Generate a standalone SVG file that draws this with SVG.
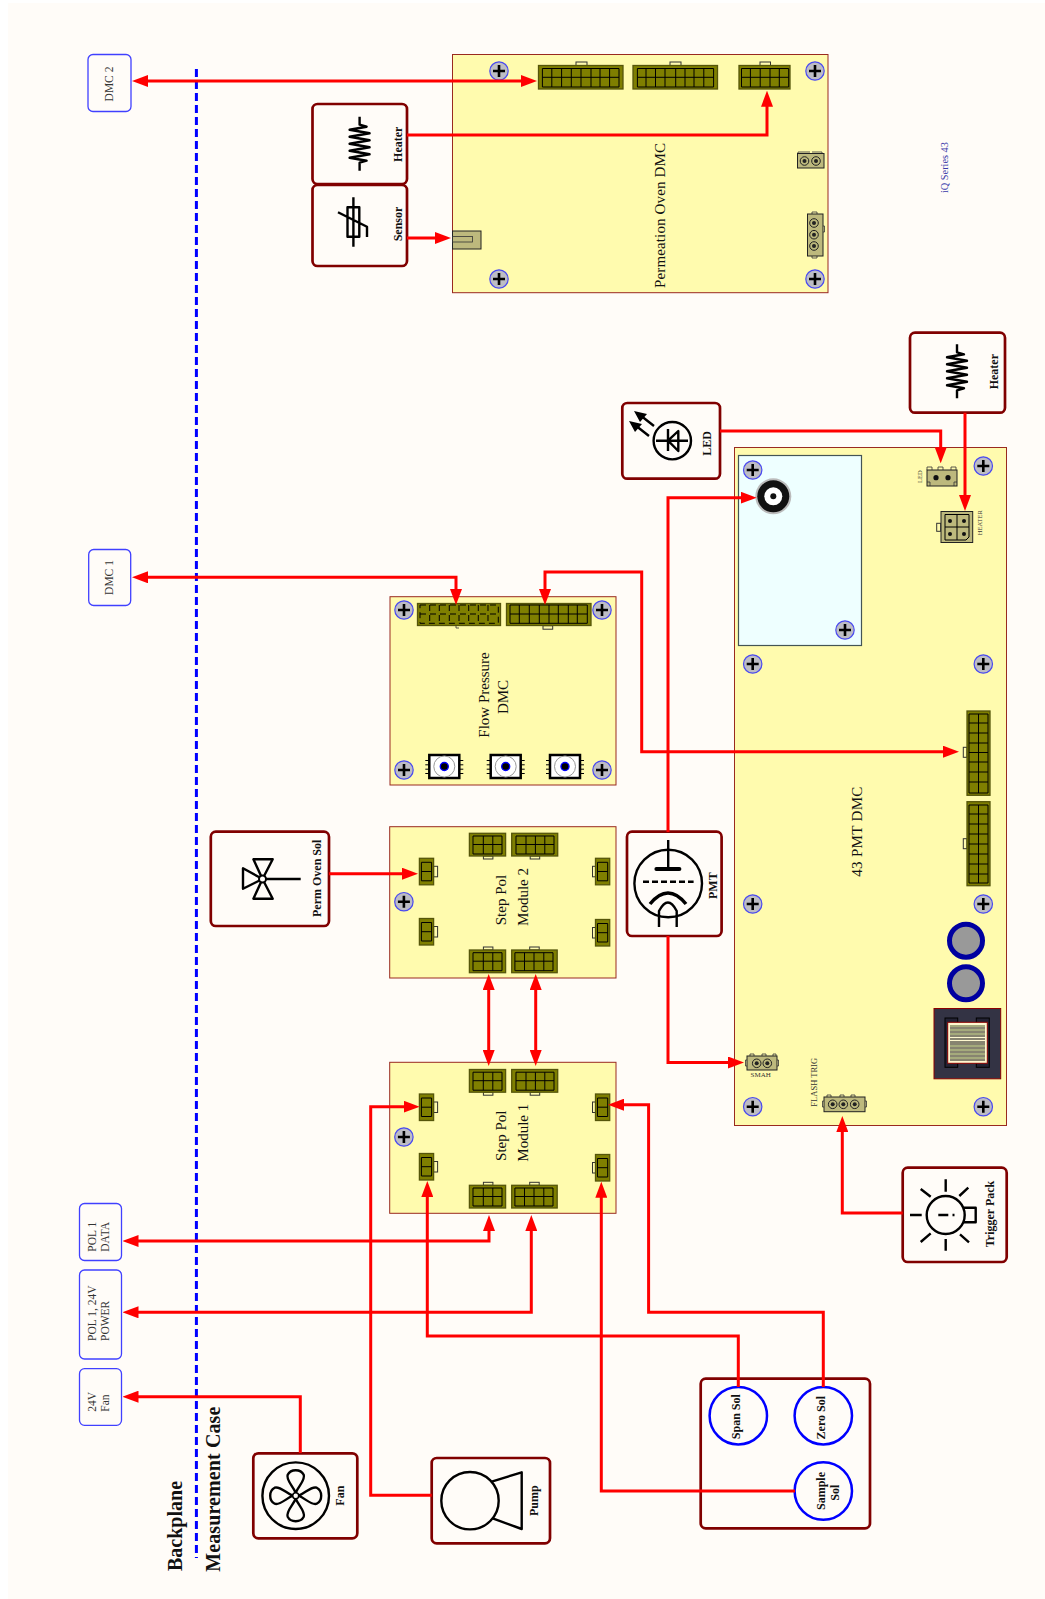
<svg xmlns="http://www.w3.org/2000/svg" xmlns:xlink="http://www.w3.org/1999/xlink" width="1045" height="1599" viewBox="0 0 1045 1599">
<style>
text{font-family:"Liberation Serif","Times New Roman",serif;fill:#111}
.board{fill:#fffbae;stroke:#9a2a20;stroke-width:1}
.dev{fill:#fffcf8;stroke:#800000;stroke-width:2.7}
.ext{fill:#fffcf8;stroke:#4040ff;stroke-width:1.3}
.sym{fill:none;stroke:#000;stroke-width:2.4;stroke-linejoin:round}
.ol{fill:#7f7f00;stroke:#55550a;stroke-width:1.3}
.gr{fill:none;stroke:#000;stroke-width:1}
.tab{fill:#fffbae;stroke:#333;stroke-width:1}
.tan{fill:#bdb97d;stroke:#222;stroke-width:1}
.wire{fill:none;stroke:#f00;stroke-width:3;marker-end:url(#ah)}
.wire2{fill:none;stroke:#f00;stroke-width:3;marker-end:url(#ah);marker-start:url(#ah)}
.lb{font-size:15px}
.bl{font-size:12px;font-weight:bold}
.ex{font-size:11.5px;fill:#333}
.ti{font-size:6.5px;fill:#333}
</style>
<defs>
<marker id="ah" viewBox="0 0 16 12" refX="8" refY="6" markerWidth="16" markerHeight="12" markerUnits="userSpaceOnUse" orient="auto-start-reverse"><path d="M0 0L16 6L0 12z" fill="#f00"/></marker>
<g id="screw"><circle r="9.2" fill="#bdbdc4" stroke="#4a4af0" stroke-width="1.2"/><path d="M-6 0H6M0-6V6" stroke="#000" stroke-width="2.6"/></g>
<path id="res" class="sym" d="M0-27V-19L7-17L-10-14L10-10.500L-10-7L10-3.500L-10 0L10 3.500L-10 7L10 10.500L-10 14L7 17L0 19V27"/>
<g id="c3up"><rect class="tab" x="14" y="-3" width="9.5" height="3"/><rect class="ol" width="36.2" height="22.7"/><path class="gr" d="M3.6 2.7H32.6V20.7H3.6ZM3.6 11.2H32.6M13.9 2.7V20.7M23.4 2.7V20.7"/></g>
<g id="c3dn"><rect class="tab" x="14" y="22.7" width="9.5" height="3"/><rect class="ol" width="36.2" height="22.7"/><path class="gr" d="M3.6 2.7H32.6V20.7H3.6ZM3.6 11.2H32.6M13.9 2.7V20.7M23.4 2.7V20.7"/></g>
<g id="c4up"><rect class="tab" x="18" y="-3" width="9.5" height="3"/><rect class="ol" width="45.5" height="22.7"/><path class="gr" d="M3.2 2.7H41.3V20.7H3.2ZM3.2 11.2H41.3M12.8 2.7V20.7M22.3 2.7V20.7M32.1 2.7V20.7"/></g>
<g id="c4dn"><rect class="tab" x="18.5" y="22.7" width="9.5" height="3"/><rect class="ol" width="46" height="22.7"/><path class="gr" d="M4.3 2.7H42.3V20.7H4.3ZM4.3 11.2H42.3M14.3 2.7V20.7M23.7 2.7V20.7M33.1 2.7V20.7"/></g>
<g id="c2r"><rect class="tab" x="14.2" y="8" width="4" height="10.5"/><rect class="ol" width="14.2" height="26.5"/><path class="gr" d="M2 4H12.2V22.5H2ZM2 13.2H12.2"/></g>
<g id="c2l"><rect class="tab" x="-3" y="8" width="3" height="10.5"/><rect class="ol" width="14.2" height="26.5"/><path class="gr" d="M2 4H12.2V22.5H2ZM2 13.2H12.2"/></g>
<g id="sensor"><rect x="-15" y="-11.5" width="30" height="23" fill="#fff" stroke="#000" stroke-width="2.5"/><circle r="10.5" fill="#fff" stroke="#999"/><circle r="4" fill="#000" stroke="#00f" stroke-width="1.4"/><path d="M-19-6H-15M-19-1.7H-15M-19 2.7H-15M-19 7H-15M15-6H19M15-1.7H19M15 2.7H19M15 7H19" stroke="#000"/></g>
<g id="pin"><circle r="4.3" fill="#bdb97d" stroke="#222"/><circle r="2" fill="#222"/></g>
</defs>
<rect width="1045" height="1599" fill="#fff"/>
<rect x="8" y="3" width="1037" height="1596" fill="#fffcf8"/>
<g id="backplane-divider">
<path d="M196.4 69V1558" stroke="#00f" stroke-width="3" stroke-dasharray="8 4" fill="none"/>
<text transform="translate(182.3 1571) rotate(-90)" font-size="20" font-weight="bold">Backplane</text>
<text transform="translate(220 1571.7) rotate(-90)" font-size="20" font-weight="bold" textLength="165">Measurement Case</text>
</g>
<text id="series-label" transform="translate(948 193) rotate(-90)" font-size="10.3" style="fill:#3838a8">iQ Series 43</text>

<g id="ext-dmc2"><rect class="ext" x="88" y="54.5" width="43" height="57" rx="5"/><text class="ex" transform="translate(113 84) rotate(-90)" text-anchor="middle">DMC 2</text></g>
<g id="ext-dmc1"><rect class="ext" x="88.7" y="549.5" width="42" height="56" rx="5"/><text class="ex" transform="translate(113 577.5) rotate(-90)" text-anchor="middle">DMC 1</text></g>
<g id="ext-pol-data"><rect class="ext" x="79.5" y="1203.5" width="42" height="57" rx="5"/><text class="ex" transform="translate(95.7 1251.7) rotate(-90)">POL 1</text><text class="ex" transform="translate(109.3 1251.7) rotate(-90)">DATA</text></g>
<g id="ext-pol-power"><rect class="ext" x="79.5" y="1270" width="42" height="89" rx="5"/><text class="ex" transform="translate(95.7 1341) rotate(-90)">POL 1, 24V</text><text class="ex" transform="translate(109.3 1341) rotate(-90)">POWER</text></g>
<g id="ext-fan"><rect class="ext" x="79.5" y="1368.7" width="42" height="56.6" rx="5"/><text class="ex" transform="translate(95.7 1411.7) rotate(-90)">24V</text><text class="ex" transform="translate(109.3 1411.7) rotate(-90)">Fan</text></g>

<g id="perm-oven-dmc">
<rect class="board" x="452.5" y="54.5" width="375.5" height="238.2"/>
<use href="#screw" x="499" y="71"/><use href="#screw" x="499" y="279"/><use href="#screw" x="815" y="71"/><use href="#screw" x="815" y="279"/>
<rect class="tab" x="576" y="62" width="11" height="3.500"/><rect class="ol" x="538.5" y="65.5" width="84.5" height="23.5"/>
<path class="gr" d="M542.4 68.5H619V87H542.4ZM542.4 77.3H619M551.8 68.5V87M561.6 68.5V87M571.3 68.5V87M581 68.5V87M591 68.5V87M600 68.5V87M609.6 68.5V87"/>
<rect class="tab" x="670" y="62" width="11" height="3.500"/><rect class="ol" x="633" y="65.5" width="84.5" height="23.5"/>
<path class="gr" d="M637.4 68.5H713.6V87H637.4ZM637.4 77.3H713.6M646 68.5V87M655.5 68.5V87M665 68.5V87M675.7 68.5V87M685 68.5V87M694 68.5V87M703.8 68.5V87"/>
<rect class="tab" x="760" y="62" width="10.5" height="3.500"/><rect class="ol" x="739" y="65.5" width="51" height="23.5"/>
<path class="gr" d="M741.5 68.5H788.7V87H741.5ZM741.5 77.3H788.7M750.4 68.5V87M760.2 68.5V87M770 68.5V87M779.3 68.5V87"/>
<rect class="tan" x="452.5" y="231" width="28.5" height="18"/><rect x="452.5" y="236.5" width="20" height="5.5" fill="none" stroke="#333" stroke-width=".8"/>
<path d="M798 153.500V152H810M812 152H822V153.500" fill="none" stroke="#333" stroke-width=".8"/><rect class="tan" x="797.5" y="153.5" width="26.5" height="14.5"/><use href="#pin" x="804.5" y="161"/><use href="#pin" x="816" y="161"/>
<path d="M812 214V212H817V214M812 256V258H817V256M823 226H824.500V232H823" fill="none" stroke="#333" stroke-width=".8"/><rect class="tan" x="807.5" y="214" width="15.5" height="42"/><use href="#pin" x="814" y="223"/><use href="#pin" x="814" y="234.7"/><use href="#pin" x="814" y="246"/>
<text class="lb" transform="translate(665 288) rotate(-90)" textLength="145">Permeation Oven DMC</text>
</g>

<g id="flow-pressure-dmc">
<rect class="board" x="390" y="596.7" width="226" height="188.3"/>
<use href="#screw" x="404" y="610"/><use href="#screw" x="602" y="610"/><use href="#screw" x="404" y="770"/><use href="#screw" x="602" y="770"/>
<rect class="ol" x="417.5" y="603.5" width="83" height="22"/>
<path class="gr" stroke-dasharray="6 4" d="M420 605H498.3V623.3H420ZM420 614H498.3M429.7 605V623.3M439.3 605V623.3M449.3 605V623.3M459 605V623.3M468.7 605V623.3M478.3 605V623.3M488 605V623.3"/>
<path d="M456 625.700V628H459" fill="none" stroke="#333" stroke-width=".8"/>
<rect class="tab" x="543" y="625.7" width="9.7" height="3.500"/><rect class="ol" x="506.5" y="603.5" width="84.5" height="22"/>
<path class="gr" d="M510 605H587.3V623.3H510ZM510 614H587.3M519.3 605V623.3M529.3 605V623.3M539.3 605V623.3M549 605V623.3M558.3 605V623.3M568.3 605V623.3M577.3 605V623.3"/>
<use href="#sensor" x="444.3" y="766.5"/><use href="#sensor" x="505.7" y="766.5"/><use href="#sensor" x="565" y="766.5"/>
<text class="lb" transform="translate(489 695) rotate(-90)" text-anchor="middle">Flow Pressure</text>
<text class="lb" transform="translate(508 697) rotate(-90)" text-anchor="middle">DMC</text>
</g>

<g id="step-pol-module-2">
<rect class="board" x="389.7" y="826.7" width="226.3" height="151.3"/>
<use href="#c3dn" x="469.4" y="833.3"/><use href="#c4dn" x="511.7" y="833.3"/><use href="#c3up" x="469.4" y="950"/><use href="#c4up" x="511.7" y="950"/>
<use href="#c2r" x="419.4" y="858.3"/><use href="#c2r" x="419.4" y="918.5"/><use href="#c2l" x="595.5" y="858.3"/><use href="#c2l" x="595.5" y="919.5"/>
<use href="#screw" x="403.9" y="901.7"/>
<text class="lb" transform="translate(506 900) rotate(-90)" text-anchor="middle">Step Pol</text>
<text class="lb" transform="translate(528 897) rotate(-90)" text-anchor="middle">Module 2</text>
</g>

<g id="step-pol-module-1">
<rect class="board" x="389.7" y="1062.3" width="226.3" height="151"/>
<use href="#c3dn" x="469.4" y="1069.5"/><use href="#c4dn" x="511.7" y="1069.5"/><use href="#c3up" x="469.4" y="1185.3"/><use href="#c4up" x="511.7" y="1185.3"/>
<use href="#c2r" x="419.4" y="1094"/><use href="#c2r" x="419.4" y="1153.5"/><use href="#c2l" x="595.5" y="1094"/><use href="#c2l" x="595.5" y="1154.5"/>
<use href="#screw" x="403.9" y="1137"/>
<text class="lb" transform="translate(506 1135.7) rotate(-90)" text-anchor="middle">Step Pol</text>
<text class="lb" transform="translate(528 1132.7) rotate(-90)" text-anchor="middle">Module 1</text>
</g>

<g id="pmt-dmc">
<rect class="board" x="734.5" y="447.5" width="272" height="678"/>
<rect x="738.5" y="455.5" width="123" height="190" fill="#eeffff" stroke="#445555" stroke-width="1.2"/>
<use href="#screw" x="752.7" y="470"/><use href="#screw" x="845" y="630"/><use href="#screw" x="752.7" y="664"/><use href="#screw" x="983.3" y="466"/><use href="#screw" x="983.3" y="664"/><use href="#screw" x="752.7" y="904"/><use href="#screw" x="983.3" y="904"/><use href="#screw" x="752.7" y="1106.7"/><use href="#screw" x="983.3" y="1106.7"/>
<g id="coax"><circle cx="773.3" cy="496.3" r="18" fill="#bbb"/><circle cx="773.3" cy="496.3" r="16" fill="#111"/><circle cx="773.3" cy="496.3" r="9" fill="#fff"/><circle cx="773.3" cy="496.3" r="3" fill="#111"/></g>
<rect class="tan" x="927" y="470" width="30" height="16"/><path d="M927 470V467H932V470M938 470V467H943V470M951 470V467H956V470M927 482H930V486M957 482H954V486" fill="none" stroke="#333" stroke-width=".8"/><circle cx="936" cy="477.7" r="2.6" fill="#111"/><circle cx="948" cy="477.7" r="2.6" fill="#111"/>
<text class="ti" transform="translate(922 476.7) rotate(-90)" text-anchor="middle">LED</text>
<rect class="tab" x="936.7" y="523.3" width="4" height="8"/><rect class="tan" x="941" y="511.5" width="31.7" height="31"/>
<path class="gr" d="M945 514.5H969V537L966 540H945ZM957 514.5V540M945 527H969"/>
<circle cx="950" cy="521" r="2" fill="#111"/><circle cx="964" cy="521" r="2" fill="#111"/><circle cx="950" cy="534" r="2" fill="#111"/><circle cx="964" cy="534" r="2" fill="#111"/>
<text class="ti" transform="translate(981.7 522.7) rotate(-90)" text-anchor="middle">HEATER</text>
<rect class="tab" x="963.3" y="747.3" width="3.7" height="10"/><rect class="ol" x="967" y="711" width="23" height="84.3"/>
<path class="gr" d="M969 714H988V793H969ZM978.5 714V793M969 723H988M969 733H988M969 743H988M969 752.500H988M969 762H988M969 772H988M969 782H988"/>
<rect class="tab" x="963.3" y="838.7" width="3.7" height="10"/><rect class="ol" x="967" y="801.7" width="23" height="84"/>
<path class="gr" d="M969 805H988V883H969ZM978.5 805V883M969 814H988M969 824H988M969 834H988M969 844H988M969 854H988M969 864H988M969 874H988"/>
<circle cx="966" cy="940.7" r="16.5" fill="#999" stroke="#0000a0" stroke-width="5"/>
<circle cx="966" cy="983.3" r="16.5" fill="#999" stroke="#0000a0" stroke-width="5"/>
<g id="transformer"><rect x="934" y="1008.500" width="66.7" height="70.3" fill="#333344" stroke="#8b0000"/>
<rect x="945" y="1018" width="12.7" height="49.300" fill="#222233" stroke="#000"/><rect x="976.3" y="1018" width="13" height="49.300" fill="#222233" stroke="#000"/>
<rect x="947.7" y="1022.3" width="39.6" height="41" fill="#fff8d0" stroke="#8b0000"/>
<path d="M950 1026H985M950 1030H985M950 1034H985M950 1046H985M950 1050H985M950 1054H985M950 1058H985" stroke="#889060" stroke-width="1.5"/><path d="M950 1028H985M950 1032H985M950 1036H985M950 1039H985M950 1042H985M950 1044H985M950 1048H985M950 1052H985M950 1056H985M950 1060H985" stroke="#111" stroke-width="1"/></g>
<path d="M750 1056V1054H754V1056M762 1056V1054H766V1056M773 1056V1054H776V1056M777 1060H778.500V1066H777M747 1060H745.500V1066H747" fill="none" stroke="#333" stroke-width=".8"/><rect class="tan" x="747" y="1056" width="30" height="14"/><use href="#pin" x="756.7" y="1063.300"/><use href="#pin" x="767.3" y="1063.300"/>
<text transform="translate(760.700 1077)" text-anchor="middle" font-size="7" style="fill:#333">SMAH</text>
<path d="M827 1097V1095H831V1097M840 1097V1095H844V1097M851 1097V1095H855V1097M865 1101H866.500V1107H865M824 1101H822.500V1107H824" fill="none" stroke="#333" stroke-width=".8"/><rect class="tan" x="824" y="1097" width="41" height="14.700"/><use href="#pin" x="832.7" y="1104.3"/><use href="#pin" x="843.3" y="1104.3"/><use href="#pin" x="854.7" y="1104.3"/>
<text transform="translate(816.7 1082.300) rotate(-90)" text-anchor="middle" font-size="8.5" style="fill:#333">FLASH TRIG</text>
<text class="lb" transform="translate(861.7 831.7) rotate(-90)" text-anchor="middle" textLength="90">43 PMT DMC</text>
</g>

<g id="heater-perm"><rect class="dev" x="312.5" y="104" width="94.5" height="80" rx="5"/><use href="#res" x="359.6" y="143.7"/><text class="bl" transform="translate(401.8 144.3) rotate(-90)" text-anchor="middle">Heater</text></g>
<g id="sensor-perm"><rect class="dev" x="312.5" y="185" width="94.5" height="81" rx="5"/><path class="sym" d="M353.400 197.3V246.7M347.5 207.3H359.3V236.7H347.5ZM338 212.300L367 226.700V237"/><text class="bl" transform="translate(401.8 224) rotate(-90)" text-anchor="middle">Sensor</text></g>
<g id="led"><rect class="dev" x="622.3" y="403" width="97.7" height="75.7" rx="5"/><circle class="sym" cx="672.3" cy="440.7" r="18.700"/><path class="sym" d="M656 440.700H688M668 429V451M668 440.700L678.3 431V451Z"/><path class="sym" d="M654 426L640 415M649 436L635 425"/><path d="M634 411L647 414L640 422ZM629 421L642 424L635 432Z" fill="#000"/><text class="bl" transform="translate(710.7 443.3) rotate(-90)" text-anchor="middle">LED</text></g>
<g id="heater-pmt"><rect class="dev" x="910" y="332.7" width="95" height="80" rx="5"/><use href="#res" x="957" y="371.300"/><text class="bl" transform="translate(998.3 371.700) rotate(-90)" text-anchor="middle">Heater</text></g>
<g id="perm-oven-sol"><rect class="dev" x="210.8" y="831.7" width="118.200" height="94.300" rx="5"/><path class="sym" d="M262.5 879L253.400 859.3H272.700ZM262.5 879L253.400 898.700H272.700ZM262.5 879L243 868.3V888.700ZM262.5 879H300.700"/><circle cx="262.5" cy="879" r="3.500" fill="#fffcf8" stroke="#000" stroke-width="2"/><text class="bl" transform="translate(321 878.300) rotate(-90)" text-anchor="middle">Perm Oven Sol</text></g>
<g id="pmt"><rect class="dev" x="627" y="831.7" width="94.600" height="104.300" rx="5"/><circle class="sym" cx="668.2" cy="883.500" r="33.800"/><path class="sym" d="M668.2 840V868"/><path d="M656.4 869H679.400" stroke="#000" stroke-width="4" stroke-linecap="round"/><path d="M643 881.700H693.600" stroke="#000" stroke-width="2.400" stroke-dasharray="6 3"/><path d="M650 904Q668 882 686 904" fill="none" stroke="#000" stroke-width="3.500"/><path class="sym" d="M659 927V911Q668 894 676.700 911V927"/><text class="bl" transform="translate(717 885.700) rotate(-90)" text-anchor="middle">PMT</text></g>
<g id="trigger-pack"><rect class="dev" x="902.7" y="1167.7" width="104" height="94.300" rx="5"/><circle class="sym" cx="945.700" cy="1215" r="19"/><path class="sym" d="M964 1207.700H975.700V1222.300H964"/><path class="sym" d="M945.700 1179.300V1191.700M945.700 1239V1250.700M910 1215H921.700M920.700 1189L930.700 1196.700M968.300 1187.700L959.300 1196M920.700 1242L930.700 1233.300M969 1242.300L960 1234.300M938.300 1215H948.300M952.500 1215H954.500"/><text class="bl" transform="translate(994 1214) rotate(-90)" text-anchor="middle">Trigger Pack</text></g>
<g id="solenoids"><rect class="dev" x="700.700" y="1378.700" width="169.300" height="149.600" rx="5"/></g>
<g id="span-sol"><circle cx="738.300" cy="1415.700" r="28.700" fill="#fffcf8" stroke="#00f" stroke-width="2.500"/><text class="bl" transform="translate(740 1416.700) rotate(-90)" text-anchor="middle">Span Sol</text></g>
<g id="zero-sol"><circle cx="823.300" cy="1415.700" r="28.700" fill="#fffcf8" stroke="#00f" stroke-width="2.500"/><text class="bl" transform="translate(825 1417.700) rotate(-90)" text-anchor="middle">Zero Sol</text></g>
<g id="sample-sol"><circle cx="823.300" cy="1491" r="28.700" fill="#fffcf8" stroke="#00f" stroke-width="2.500"/><text class="bl" transform="translate(825 1491) rotate(-90)" text-anchor="middle">Sample</text><text class="bl" transform="translate(839.300 1492.700) rotate(-90)" text-anchor="middle">Sol</text></g>
<g id="fan"><rect class="dev" x="253.300" y="1453.300" width="104" height="85" rx="5"/><circle class="sym" cx="295.700" cy="1495.700" r="33.300"/><g transform="translate(295.700 1495.700)"><path class="sym" d="M0-3C-3-10-10-16-8-21C-5-27 5-27 8-21C10-16 3-10 0-3Z"/><path class="sym" transform="rotate(90)" d="M0-3C-3-10-10-16-8-21C-5-27 5-27 8-21C10-16 3-10 0-3Z"/><path class="sym" transform="rotate(180)" d="M0-3C-3-10-10-16-8-21C-5-27 5-27 8-21C10-16 3-10 0-3Z"/><path class="sym" transform="rotate(270)" d="M0-3C-3-10-10-16-8-21C-5-27 5-27 8-21C10-16 3-10 0-3Z"/><circle r="3" fill="#fffcf8" stroke="#000" stroke-width="1.500"/></g><text class="bl" transform="translate(344.300 1495.700) rotate(-90)" text-anchor="middle">Fan</text></g>
<g id="pump"><rect class="dev" x="431.700" y="1458" width="118.300" height="85.300" rx="5"/><circle class="sym" cx="470" cy="1500.700" r="28.700"/><path class="sym" d="M491.700 1481.700L521.700 1472.300V1529L492.700 1518.300"/><text class="bl" transform="translate(538.300 1500.700) rotate(-90)" text-anchor="middle">Pump</text></g>

<g id="connectors">
<path class="wire2" d="M140 81H529"/>
<path class="wire" d="M407 135H767V98.700"/>
<path class="wire" d="M407 238H443"/>
<path class="wire2" d="M140 577.300H456V597"/>
<path class="wire2" d="M951 751.700H641.700V572H545V597"/>
<path class="wire" d="M329 873.700H410"/>
<path class="wire2" d="M488.700 982V1058"/>
<path class="wire2" d="M535.700 982V1058"/>
<path class="wire" d="M668 832V497.700H748.700"/>
<path class="wire" d="M668 936V1062.500H736"/>
<path class="wire" d="M720 431H940.700V455.300"/>
<path class="wire" d="M965 412.700V503"/>
<path class="wire" d="M902.700 1213H842.300V1124"/>
<path class="wire" d="M823.300 1387V1312.300H648.600V1104.700H616"/>
<path class="wire" d="M738.300 1387V1336H427.300V1189"/>
<path class="wire" d="M795 1491H601.300V1189.700"/>
<path class="wire" d="M431.700 1495.300H370.700V1106.700H411.700"/>
<path class="wire2" d="M489 1223V1241H130.500"/>
<path class="wire2" d="M531.300 1223V1312.300H130.500"/>
<path class="wire" d="M300.300 1453V1396.700H130.500"/>
</g>
</svg>
